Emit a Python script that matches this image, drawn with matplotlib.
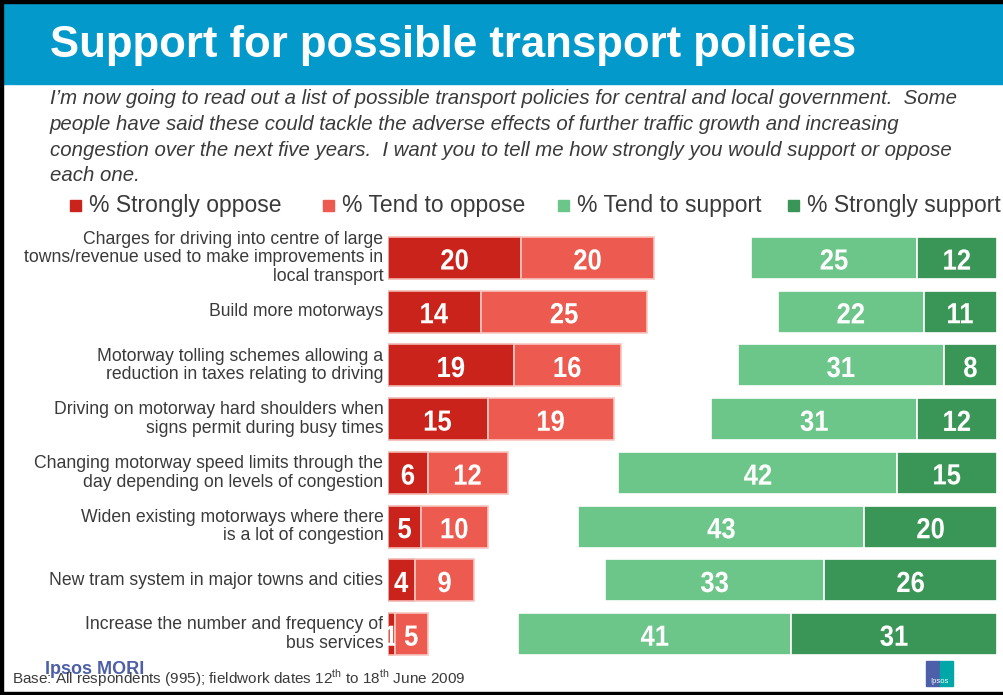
import numpy as np
import matplotlib.pyplot as plt
from matplotlib.patches import Rectangle, PathPatch
from matplotlib.textpath import TextPath
from matplotlib.font_manager import FontProperties
import matplotlib.transforms as mtransforms

plt.rcParams['font.family'] = ['Liberation Sans', 'DejaVu Sans']
plt.rcParams['mathtext.fontset'] = 'custom'
plt.rcParams['mathtext.rm'] = 'Liberation Sans'

policies = [
    "Charges for driving into centre of large\ntowns/revenue used to make improvements in\nlocal transport",
    "Build more motorways",
    "Motorway tolling schemes allowing a\nreduction in taxes relating to driving",
    "Driving on motorway hard shoulders when\nsigns permit during busy times",
    "Changing motorway speed limits through the\nday depending on levels of congestion",
    "Widen existing motorways where there\nis a lot of congestion",
    "New tram system in major towns and cities",
    "Increase the number and frequency of\nbus services",
]
strongly_oppose = [20, 14, 19, 15, 6, 5, 4, 1]
tend_oppose = [20, 25, 16, 19, 12, 10, 9, 5]
tend_support = [25, 22, 31, 31, 42, 43, 33, 41]
strongly_support = [12, 11, 8, 12, 15, 20, 26, 31]
series_names = ["% Strongly oppose", "% Tend to oppose", "% Tend to support", "% Strongly support"]

colors = ["#C9231B", "#EC5A50", "#6CC589", "#3A9656"]
blue = "#0399CB"
grey = "#3A3A3A"

W, H = 1004, 695
DPI = 100
fig = plt.figure(figsize=(W / DPI, H / DPI), dpi=DPI)

def fx(px):
    return px / W

def fy(py):
    return 1 - py / H

# frame and title bar
fig.patches.append(Rectangle((fx(3), fy(84)), fx(1001), 81 / H, transform=fig.transFigure,
                             color=blue, zorder=0))
for r in [(0, 0, 1004, 3), (0, 0, 3, 695), (0, 692, 1004, 3)]:
    fig.patches.append(Rectangle((fx(r[0]), fy(r[1] + r[3])), r[2] / W, r[3] / H,
                                 transform=fig.transFigure, color="black", zorder=1))

fig.text(fx(50), fy(57), "Support for possible transport policies", color="white",
         fontsize=31.5, fontweight="bold", va="baseline")

subtitle = ("I\u2019m now going to read out a list of possible transport policies for central and local government.  Some\n"
            "people have said these could tackle the adverse effects of further traffic growth and increasing\n"
            "congestion over the next five years.  I want you to tell me how strongly you would support or oppose\n"
            "each one.")
fig.text(fx(50), fy(89), subtitle, color=grey, fontsize=14.7, style="italic", va="top",
         linespacing=1.45)

# legend
leg_sq = [70, 323, 558, 788]
for x0, name, c in zip(leg_sq, series_names, colors):
    fig.patches.append(Rectangle((fx(x0), fy(211)), 11 / W, 11 / H, transform=fig.transFigure,
                                 color=c))
    fig.text(fx(x0 + 19), fy(212), name, color=grey, fontsize=16.5, va="baseline")

# bars
ax = fig.add_axes([fx(388), fy(661), 609 / W, 430 / H])
xmax = 91.6
y = np.arange(len(policies))
h = 0.78
so = np.array(strongly_oppose)
to = np.array(tend_oppose)
ts = np.array(tend_support)
ss = np.array(strongly_support)

segments = [
    (np.zeros(len(y)), so, colors[0], "#F4B8B2"),
    (so, to, colors[1], "#F8C6C0"),
    (xmax - ss - ts, ts, colors[2], "white"),
    (xmax - ss, ss, colors[3], "white"),
]

num_prop = FontProperties(family="Liberation Sans", weight="bold")

def narrow_label(x, yy, s, clip):
    # bold digits squeezed sideways, like the narrow face of the original
    tp = TextPath((0, 0), s, size=21, prop=num_prop)
    ext = tp.get_extents()
    k = DPI / 72
    tr = (mtransforms.Affine2D()
          .translate(-(ext.x0 + ext.x1) / 2, -(ext.y0 + ext.y1) / 2)
          .scale(0.88 * k, k)
          + mtransforms.ScaledTranslation(x, yy, ax.transData))
    p = PathPatch(tp, transform=tr, color="white", lw=0, zorder=3)
    ax.add_artist(p)
    p.set_clip_path(clip)

for left, width, c, ec in segments:
    bars = ax.barh(y, width, left=left, height=h, color=c, edgecolor=ec, linewidth=1.2)
    for b, l, w, yy in zip(bars, left, width, y):
        narrow_label(l + w / 2, yy + 0.03, str(w), b)

for yy, lab in zip(y, policies):
    ax.text(-0.7, yy, lab, ha="right", va="center", fontsize=12.7, color=grey,
            linespacing=1.1)

ax.set_xlim(0, xmax)
ax.set_ylim(len(y) - 0.5, -0.5)
ax.axis("off")

# footer
fig.text(fx(45), fy(674), "Ipsos MORI", color="#4C5FA8", fontsize=13, fontweight="bold",
         va="baseline")
fig.text(fx(12), fy(684), r"Base: All respondents (995); fieldwork dates 12$^{\rm th}$ to 18$^{\rm th}$ June 2009",
         color=grey, fontsize=11, va="baseline")
fig.patches.append(Rectangle((fx(926), fy(686)), 14 / W, 25 / H, transform=fig.transFigure,
                             color="#4C5FA8"))
fig.patches.append(Rectangle((fx(940), fy(686)), 13 / W, 25 / H, transform=fig.transFigure,
                             color="#00A7A8"))
fig.text(fx(939.5), fy(683), "Ipsos", color="white", fontsize=5.5, ha="center", va="baseline")

fig.savefig("out.png", dpi=DPI)
